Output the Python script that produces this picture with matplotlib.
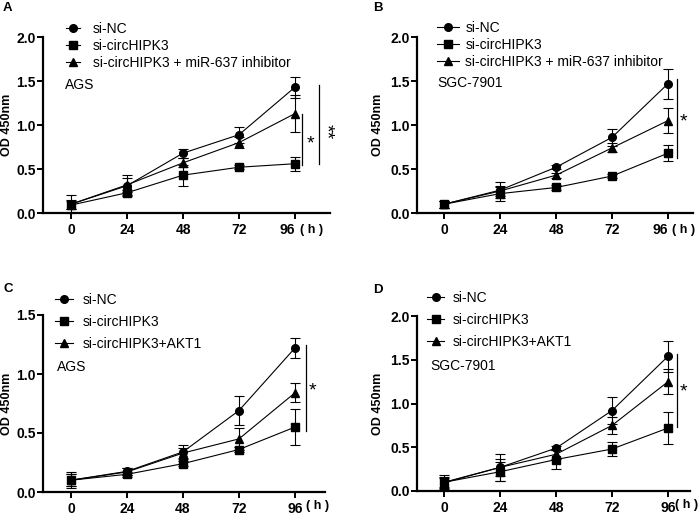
import matplotlib
matplotlib.use("Agg")
import matplotlib.pyplot as plt
from matplotlib.lines import Line2D

plt.rcParams["font.family"] = ["Liberation Sans", "DejaVu Sans"]

W, H = 699, 515

hours = [0, 24, 48, 72, 96]
xtick_labels = ["0", "24", "48", "72", "96"]

# panel A (AGS, miR-637 inhibitor)
a_nc = [0.10, 0.31, 0.68, 0.89, 1.43]
a_nc_err = [0.10, 0.12, 0.05, 0.09, 0.12]
a_si = [0.09, 0.23, 0.43, 0.52, 0.56]
a_si_err = [0.05, 0.03, 0.12, 0.02, 0.08]
a_res = [0.10, 0.32, 0.57, 0.80, 1.13]
a_res_err = [0.05, 0.08, 0.05, 0.06, 0.21]

# panel B (SGC-7901, miR-637 inhibitor)
b_nc = [0.10, 0.26, 0.52, 0.86, 1.47]
b_nc_err = [0.04, 0.09, 0.02, 0.10, 0.17]
b_si = [0.10, 0.22, 0.29, 0.42, 0.68]
b_si_err = [0.04, 0.08, 0.03, 0.02, 0.09]
b_res = [0.10, 0.25, 0.43, 0.74, 1.05]
b_res_err = [0.04, 0.06, 0.03, 0.05, 0.14]

# panel C (AGS, AKT1)
c_nc = [0.10, 0.175, 0.34, 0.69, 1.22]
c_nc_err = [0.07, 0.03, 0.06, 0.12, 0.085]
c_si = [0.10, 0.15, 0.24, 0.36, 0.55]
c_si_err = [0.05, 0.02, 0.02, 0.02, 0.15]
c_res = [0.10, 0.17, 0.33, 0.45, 0.84]
c_res_err = [0.05, 0.03, 0.04, 0.09, 0.08]

# panel D (SGC-7901, AKT1)
d_nc = [0.095, 0.27, 0.49, 0.92, 1.54]
d_nc_err = [0.06, 0.15, 0.02, 0.15, 0.18]
d_si = [0.10, 0.22, 0.36, 0.48, 0.72]
d_si_err = [0.08, 0.11, 0.11, 0.08, 0.18]
d_res = [0.10, 0.27, 0.42, 0.75, 1.25]
d_res_err = [0.05, 0.10, 0.05, 0.10, 0.14]

labels_mir = ["si-NC", "si-circHIPK3", "si-circHIPK3 + miR-637 inhibitor"]
labels_akt = ["si-NC", "si-circHIPK3", "si-circHIPK3+AKT1"]

# layout in reference pixels
panels = [
    dict(letter="A", cell="AGS", box=(43, 37, 330, 213), xlim=(-12, 111), ymax=2.0,
         yticks=[0.0, 0.5, 1.0, 1.5, 2.0],
         series=[(a_nc, a_nc_err), (a_si, a_si_err), (a_res, a_res_err)], labels=labels_mir,
         sig=[(99, 0.54, 1.12, "*", 102.6, 0.78, 0), (106.3, 0.56, 1.46, "**", 109.0, 0.93, 270)],
         letter_pos=(3, 8), hoff=16.5, h_x=300, ylab_x=13, nine_right=True,
         leg=(66, 31, 1.0, 0.93, 0.22), cell_xy=(65, 85)),
    dict(letter="B", cell="SGC-7901", box=(417, 37, 693, 213), xlim=(-11.6, 106.7), ymax=2.0,
         yticks=[0.0, 0.5, 1.0, 1.5, 2.0],
         series=[(b_nc, b_nc_err), (b_si, b_si_err), (b_res, b_res_err)], labels=labels_mir,
         sig=[(99.9, 0.62, 1.52, "*", 102.6, 1.04, 0)],
         letter_pos=(373, 8), hoff=16.5, h_x=672, ylab_x=384, nine_right=True,
         leg=(437, 30, 1.6, 0.45, 0.22), cell_xy=(437, 83)),
    dict(letter="C", cell="AGS", box=(43, 315, 325, 492), xlim=(-12, 108.9), ymax=1.5,
         yticks=[0.0, 0.5, 1.0, 1.5],
         series=[(c_nc, c_nc_err), (c_si, c_si_err), (c_res, c_res_err)], labels=labels_akt,
         sig=[(100.7, 0.52, 1.25, "*", 103.7, 0.86, 0)],
         letter_pos=(3, 289), hoff=14, h_x=306, ylab_x=13, nine_right=False,
         leg=(55, 302, 1.3, 0.7, 0.58), cell_xy=(57, 367)),
    dict(letter="D", cell="SGC-7901", box=(417, 316, 690, 491), xlim=(-11.6, 105.4), ymax=2.0,
         yticks=[0.0, 0.5, 1.0, 1.5, 2.0],
         series=[(d_nc, d_nc_err), (d_si, d_si_err), (d_res, d_res_err)], labels=labels_akt,
         sig=[(100, 0.73, 1.57, "*", 102.6, 1.13, 0)],
         letter_pos=(373, 290), hoff=14, h_x=675, ylab_x=384, nine_right=False,
         leg=(427, 300, 1.25, 0.6, 0.58), cell_xy=(430, 366)),
]

markers = ["o", "s", "^"]

fig = plt.figure(figsize=(W / 100, H / 100), dpi=100)

for p in panels:
    l, t, r, b = p["box"]
    aw, ah = r - l, b - t
    ax = fig.add_axes([l / W, 1 - b / H, aw / W, ah / H])
    handles = []
    for (vals, errs), m, lab in zip(p["series"], markers, p["labels"]):
        ax.errorbar(hours, vals, yerr=errs, color="black", marker=m, markersize=5.5,
                    linewidth=0.8, elinewidth=0.8, capsize=3.6, capthick=0.8,
                    clip_on=False)
        handles.append(Line2D([], [], color="black", marker=m, markersize=5.5,
                              linewidth=0.8, label=lab))
    ax.set_xlim(*p["xlim"])
    ax.set_ylim(0, p["ymax"])
    ax.set_xticks(hours)
    ax.set_xticklabels(xtick_labels)
    ax.set_yticks(p["yticks"])
    ax.set_yticklabels(["%.1f" % v for v in p["yticks"]])
    for s in ["top", "right"]:
        ax.spines[s].set_visible(False)
    for s in ["left", "bottom"]:
        ax.spines[s].set_linewidth(1.6)
    ax.tick_params(direction="out", width=1.4, length=4.5, labelsize=10)
    ax.tick_params(axis="x", pad=2.5)
    ax.tick_params(axis="y", pad=0.5)
    for lbl in ax.get_xticklabels() + ax.get_yticklabels():
        lbl.set_fontweight("bold")
    if p["nine_right"]:
        ax.get_xticklabels()[-1].set_horizontalalignment("right")
    ax.set_ylabel("OD 450nm", fontsize=9, fontweight="bold")
    ax.yaxis.set_label_coords((p["ylab_x"] - l) / aw, 0.5)
    hx = p["xlim"][0] + (p["h_x"] - l) / aw * (p["xlim"][1] - p["xlim"][0])
    ax.text(hx, -p["hoff"] / ah, "( h )", fontsize=9, fontweight="bold",
            ha="left", va="center", transform=ax.get_xaxis_transform(), clip_on=False)
    lx, ly, hlen, hpad, lsp = p["leg"]
    ax.legend(handles=handles, loc="upper left",
              bbox_to_anchor=((lx - l) / aw, 1 + (t - ly + 9) / ah),
              frameon=False, fontsize=10, handlelength=hlen, handletextpad=hpad,
              labelspacing=lsp, borderaxespad=0, borderpad=0)
    cx, cy = p["cell_xy"]
    ax.text((cx - l) / aw, 1 - (cy - t) / ah, p["cell"], transform=ax.transAxes,
            fontsize=10, ha="left", va="center")
    for x, y0, y1, star, sx, sy, rot in p["sig"]:
        ax.plot([x, x], [y0, y1], color="black", linewidth=0.9, clip_on=False)
        ax.text(sx, sy, star, fontsize=14, ha="center", va="center", rotation=rot,
                clip_on=False)
    fig.text(p["letter_pos"][0] / W, 1 - p["letter_pos"][1] / H, p["letter"],
             fontsize=9.5, fontweight="bold", ha="left", va="center")

fig.savefig("out.png", dpi=100)
